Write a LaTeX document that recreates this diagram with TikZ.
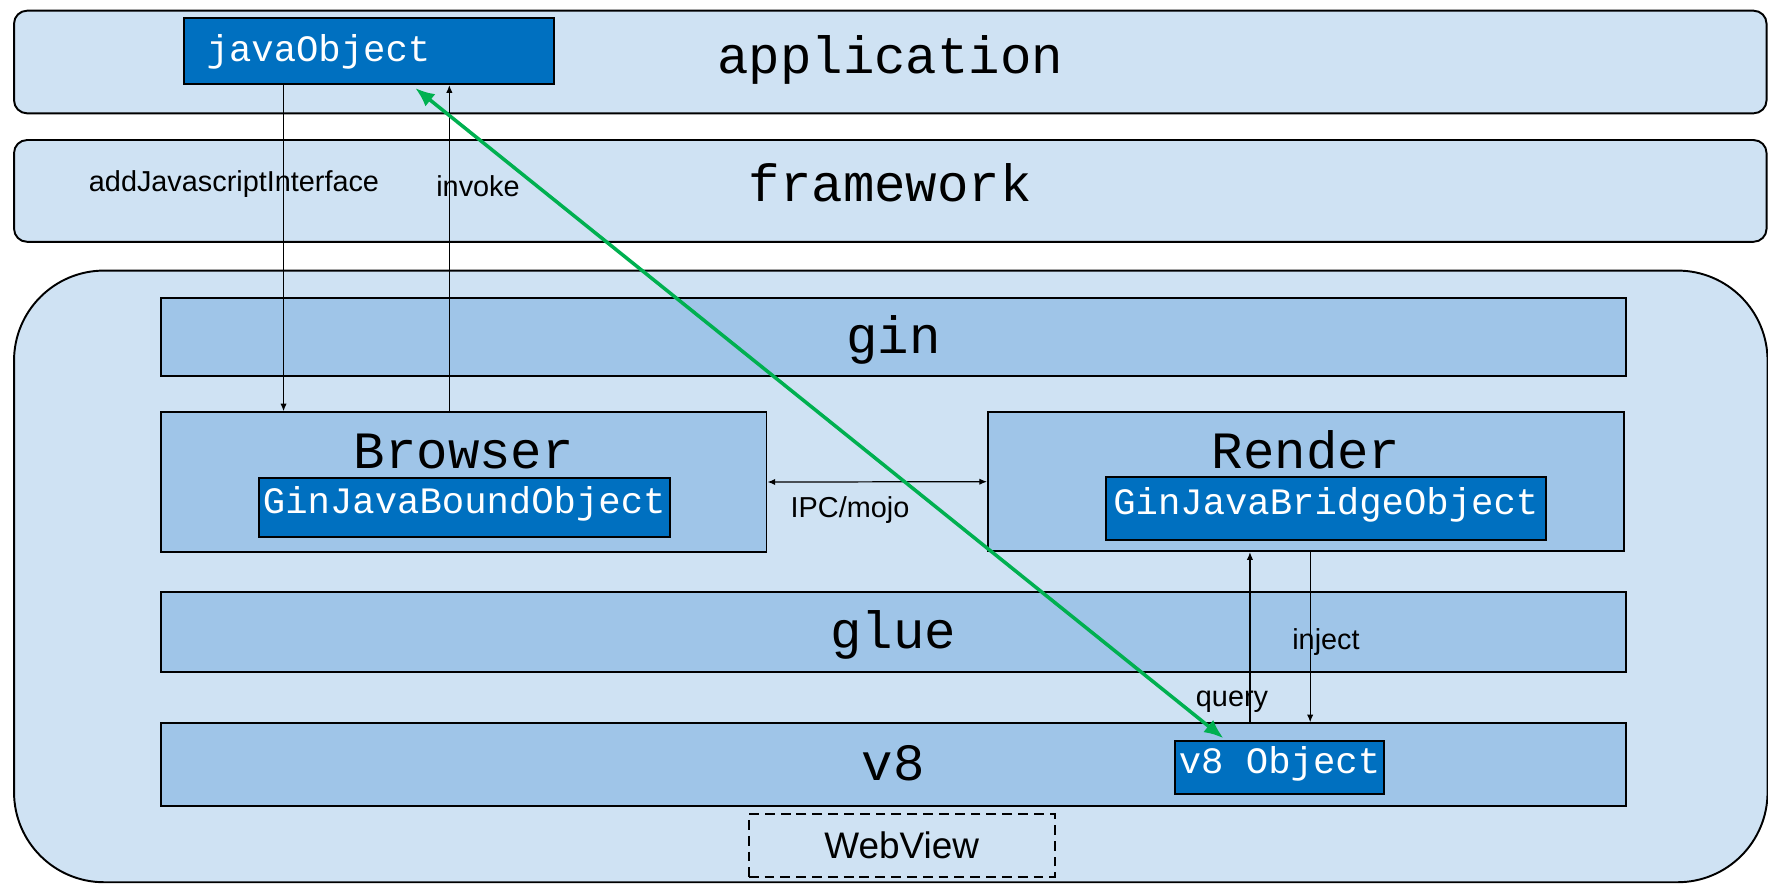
\documentclass[tikz,border=0pt]{standalone}
\usepackage{fontspec}
\setmainfont{Liberation Sans}
\newfontfamily\codefont{Liberation Mono}
\usetikzlibrary{arrows.meta}

\definecolor{paneblue}{RGB}{207,226,243}
\definecolor{barblue}{RGB}{159,197,232}
\definecolor{objblue}{RGB}{0,112,192}
\definecolor{linkgreen}{RGB}{0,176,80}

\newcommand{\bigcode}{\codefont\fontsize{14.9pt}{16pt}\selectfont}
\newcommand{\smallcode}{\codefont\fontsize{10.6pt}{12pt}\selectfont}
\newcommand{\lblfont}{\fontsize{8.2pt}{9pt}\selectfont}

\begin{document}
\begin{tikzpicture}
  [x=0.01cm,y=-0.01cm,>={Latex[length=2.2pt,width=1.8pt]},
   every node/.style={line width=0.55pt}]
  \tikzstyle{layer} = [draw,fill=paneblue,rounded corners=0.13cm,font=\bigcode,
    minimum width=17.515cm,text height=0.33cm,text depth=0.11cm]
  \tikzstyle{bar} = [draw,fill=barblue,font=\bigcode,text height=0.38cm,text depth=0.06cm]
  \tikzstyle{obj} = [draw,fill=objblue,text=white,font=\smallcode,inner xsep=0.5pt,
    inner ysep=0pt,text height=0.27cm,text depth=0.15cm]
  \tikzstyle{lbl} = [font=\lblfont,inner sep=0]
  \tikzstyle{flow} = [line width=0.35pt]
  \useasboundingbox (0,0) rectangle (1768,884);
  % outer layers
  \node[layer,minimum height=1.026cm] (app) at (890.3,62) {application};
  \node[layer,minimum height=1.017cm] (frame) at (890.3,190.9) {framework};
  \node[draw,fill=paneblue,rounded corners=0.9cm,minimum width=17.525cm,
    minimum height=6.113cm] (webview) at (890.8,576.4) {};
  % chromium parts
  \foreach \name/\y/\h in {gin/337.2/0.777,glue/632.2/0.803,v8/764.5/0.823}
    \node[bar,minimum width=14.64cm,minimum height=\h cm] (\name) at (893.4,\y) {\name};
  \node[bar,minimum width=6.051cm,minimum height=1.394cm,text height=0.3cm,
    text depth=0.574cm] (browser) at (463.8,482) {Browser};
  \node[bar,minimum width=6.358cm,minimum height=1.387cm,text height=0.3cm,
    text depth=0.574cm] (render) at (1306.1,481.7) {Render};
  % objects
  \node[obj,text width=3.249cm,inner xsep=0.222cm,minimum height=0.657cm,
    text depth=0.06cm,align=left] (jobj) at (369.2,51.2) {javaObject};
  \node[obj,minimum width=4.112cm,minimum height=0.59cm] (bound) at (464.3,507.2) {GinJavaBoundObject};
  \node[obj,minimum width=4.398cm,minimum height=0.63cm] (bridge) at (1325.8,508.8) {GinJavaBridgeObject};
  \node[obj,minimum width=2.084cm,minimum height=0.536cm] (v8obj) at (1279.5,767.5) {v8 Object};
  \node[draw,dash pattern=on 2.8pt off 1.7pt,line width=0.5pt,font=\fontsize{10.5pt}{12pt}\selectfont,
    minimum width=3.06cm,minimum height=0.624cm] (wv) at (901.8,845.5) {WebView};
  % labels
  \node[lbl] (addlbl) at (234,184) {addJavascriptInterface};
  \node[lbl] (invlbl) at (478,186.5) {invoke};
  \node[lbl] (ipclbl) at (850,510) {IPC/mojo};
  \node[lbl] (injlbl) at (1326,642) {inject};
  \node[lbl] (qrylbl) at (1232,702) {query};
  % calls
  \draw[flow,->] ([xshift=-0.856cm]jobj.south) -- ([xshift=-0.856cm]jobj.south |- browser.north);
  \draw[flow,->] ([xshift=0.801cm]jobj.south |- browser.north) -- ([xshift=0.801cm]jobj.south);
  \draw[flow,<->] (browser.east) -- (render.west);
  \draw[flow,->] ([xshift=-0.561cm]render.south |- v8.north) -- ([xshift=-0.561cm]render.south);
  \draw[flow,->] ([xshift=0.041cm]render.south) -- ([xshift=0.041cm]render.south |- v8.north);
  \draw[linkgreen,line width=1pt,{Latex[length=5.5pt,width=4.5pt]}-{Latex[length=5.5pt,width=4.5pt]}]
    ([xshift=0.46cm,yshift=-0.03cm]jobj.south) -- ([xshift=-0.56cm,yshift=0.015cm]v8obj.north);
\end{tikzpicture}
\end{document}
